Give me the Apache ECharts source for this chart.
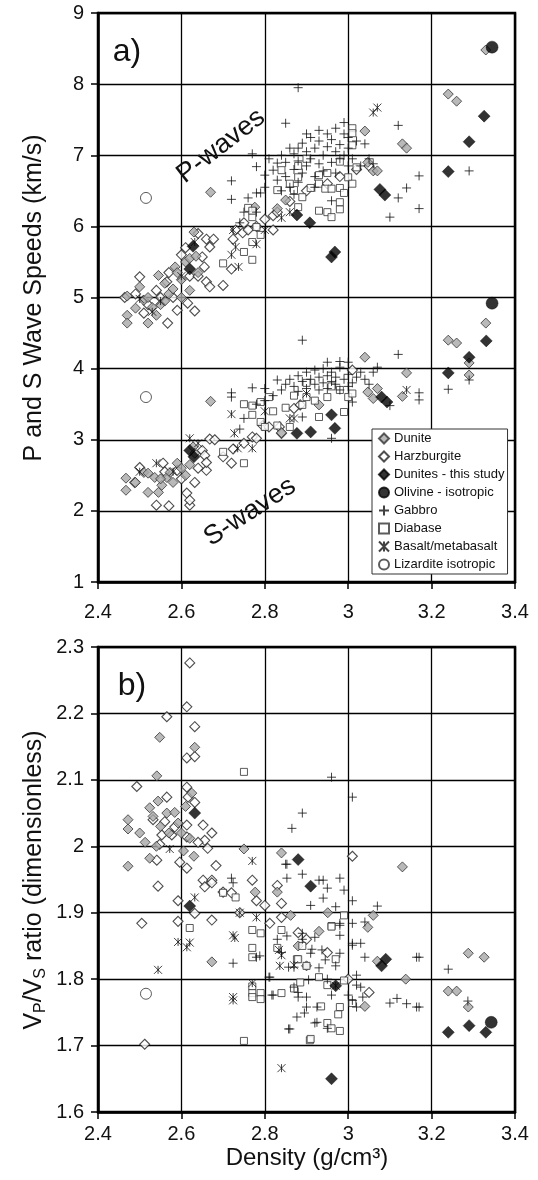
<!DOCTYPE html>
<html><head><meta charset="utf-8">
<script src="https://cdn.jsdelivr.net/npm/echarts@6/dist/echarts.min.js"></script>
<style>html,body{margin:0;padding:0;background:#fff}#c{width:538px;height:1180px}</style>
</head><body><div id="c"></div>
<script>
// ---------- axis ticks ----------
const xTicks = [2.4, 2.6, 2.8, 3.0, 3.2, 3.4];
const speedTicks = [1, 2, 3, 4, 5, 6, 7, 8, 9];
const ratioTicks = [1.6, 1.7, 1.8, 1.9, 2.0, 2.1, 2.2, 2.3];
const seriesNames = ['Dunite', 'Harzburgite', 'Dunites - this study', 'Olivine - isotropic', 'Gabbro', 'Diabase', 'Basalt/metabasalt', 'Lizardite isotropic'];

// ---------- panel a) P-wave speeds [density, Vp] ----------
const duniteP = [[2.47,5.02],[2.47,4.75],[2.47,4.64],[2.49,4.85],[2.51,4.96],[2.52,5.0],[2.52,4.64],[2.53,4.86],[2.54,4.75],[2.55,4.9],[2.545,5.31],[2.56,5.2],[2.57,5.05],[2.585,5.43],[2.59,5.35],[2.58,5.12],[2.6,5.25],[2.61,5.5],[2.62,5.55],[2.63,5.92],[2.635,5.58],[2.62,5.1],[2.6,5.0],[2.5,5.15],[2.56,4.95],[2.64,5.35],[2.67,6.48],[2.776,6.27],[2.85,6.37],[2.83,6.25],[3.04,7.34],[3.13,7.16],[3.14,7.1],[3.047,6.9],[3.06,6.78],[3.07,6.78],[3.24,7.86],[3.26,7.76],[3.33,8.48]];
const harzP = [[2.464,5.0],[2.49,5.05],[2.5,5.29],[2.51,4.78],[2.54,5.1],[2.567,4.64],[2.57,5.35],[2.565,5.22],[2.58,5.0],[2.59,4.82],[2.6,5.6],[2.61,5.7],[2.615,4.92],[2.62,5.3],[2.632,4.81],[2.64,5.3],[2.64,5.9],[2.65,5.57],[2.655,5.43],[2.66,5.22],[2.668,5.15],[2.66,5.82],[2.677,5.82],[2.668,5.71],[2.70,5.17],[2.72,5.40],[2.724,5.82],[2.73,5.95],[2.747,5.91],[2.76,5.95],[2.78,6.0],[2.75,6.05],[2.8,6.1],[2.82,5.95],[2.82,6.15],[2.83,6.2],[2.86,6.35],[2.9,6.5],[2.95,6.6],[2.98,6.7],[3.02,6.8],[3.05,6.85],[2.52,4.9],[2.55,5.0]];
const gabbroP = [[2.72,6.64],[2.72,6.38],[2.77,7.02],[2.78,6.84],[2.78,6.47],[2.79,6.47],[2.85,7.45],[2.88,7.95],[2.89,7.17],[2.99,7.46],[3.04,7.16],[3.12,7.42],[3.17,6.71],[3.14,6.54],[3.12,6.4],[3.17,6.25],[3.10,6.13],[3.29,6.78],[2.96,6.36],[2.8,6.72],[2.81,6.95],[2.82,6.79],[2.83,6.65],[2.83,6.89],[2.84,7.0],[2.85,6.7],[2.85,6.9],[2.86,7.1],[2.86,6.55],[2.87,6.8],[2.87,7.02],[2.88,6.62],[2.88,6.92],[2.89,6.75],[2.9,7.05],[2.9,6.85],[2.91,6.95],[2.91,7.25],[2.92,6.7],[2.92,7.1],[2.93,6.88],[2.93,7.2],[2.94,7.0],[2.94,6.78],[2.95,7.12],[2.95,7.3],[2.96,6.9],[2.96,7.22],[2.97,7.05],[2.97,6.75],[2.98,7.15],[2.98,6.95],[2.99,7.3],[2.99,7.0],[3.0,6.85],[3.0,7.1],[3.01,6.95],[3.02,7.2],[3.03,6.85],[3.05,6.95],[3.06,6.88],[2.92,6.55],[2.87,6.45],[2.84,6.5],[2.8,6.55],[2.76,6.4],[2.75,6.2],[2.74,6.05],[2.78,6.2],[2.93,7.35],[2.97,7.38],[3.0,7.25],[2.9,7.3],[2.88,7.1]];
const diabaseP = [[2.88,6.69],[2.89,6.41],[2.93,6.6],[2.945,6.53],[2.96,6.53],[2.91,6.54],[2.98,6.54],[2.99,6.47],[2.93,6.22],[2.95,6.2],[2.96,6.13],[2.98,6.24],[2.98,6.34],[3.0,6.69],[3.01,6.6],[2.83,6.51],[2.87,6.51],[2.88,6.27],[2.84,6.79],[2.88,6.85],[2.93,6.72],[2.98,6.91],[2.76,6.26],[2.77,6.13],[2.79,5.88],[2.75,5.64],[2.77,5.53],[2.78,5.99],[2.77,6.22],[2.70,5.48],[2.77,5.78],[3.01,7.38],[3.01,7.31],[3.01,7.14],[3.02,6.83],[2.9,6.95],[2.95,6.75],[2.86,6.6]];
const basaltP = [[2.5,4.98],[2.53,4.8],[2.55,4.95],[2.6,5.3],[2.632,5.78],[2.72,5.6],[2.724,5.95],[2.73,5.71],[2.737,5.43],[2.78,5.75],[2.8,5.95],[2.84,6.12],[2.86,6.2],[3.06,7.6],[3.07,7.67]];
const thisStudyP = [[2.62,5.40],[2.628,5.72],[2.877,6.16],[2.908,6.05],[2.96,5.57],[2.968,5.64],[3.076,6.52],[3.088,6.44],[3.24,6.77],[3.29,7.19],[3.326,7.55]];
const olivineP = [[3.345,8.52]];
const lizarditeP = [[2.515,6.4]];

// ---------- panel a) S-wave speeds [density, Vs] ----------
const duniteS = [[2.467,2.46],[2.467,2.29],[2.49,2.4],[2.51,2.54],[2.52,2.53],[2.52,2.26],[2.536,2.47],[2.545,2.26],[2.553,2.36],[2.565,2.47],[2.573,2.54],[2.58,2.4],[2.59,2.67],[2.61,2.5],[2.628,2.9],[2.632,2.81],[2.6,2.6],[2.62,2.65],[2.55,2.45],[2.67,3.54],[2.84,3.1],[2.93,3.49],[3.04,4.16],[3.047,3.67],[3.06,3.58],[3.07,3.72],[3.13,3.61],[3.14,3.94],[3.24,4.4],[3.26,4.36],[3.29,4.08],[3.29,3.91],[3.33,4.64]];
const harzS = [[2.488,2.4],[2.50,2.61],[2.54,2.08],[2.556,2.67],[2.57,2.07],[2.59,2.57],[2.6,2.45],[2.613,2.25],[2.62,2.08],[2.62,2.15],[2.632,2.4],[2.65,2.85],[2.656,2.78],[2.66,2.57],[2.66,2.68],[2.668,3.01],[2.68,3.0],[2.7,2.76],[2.72,2.67],[2.724,2.87],[2.75,2.95],[2.77,3.04],[2.78,3.02],[2.795,3.2],[2.81,3.18],[2.835,3.18],[2.84,3.09],[2.87,3.44],[2.885,3.49],[3.01,3.98],[2.56,2.55],[2.64,2.6]];
const gabbroS = [[2.72,3.66],[2.72,3.6],[2.77,3.73],[2.8,3.72],[2.83,3.84],[2.89,4.4],[2.95,4.09],[2.98,4.1],[3.0,4.09],[3.12,4.2],[3.07,4.02],[3.1,3.48],[3.17,3.66],[3.17,3.56],[2.96,3.02],[3.24,3.71],[3.29,3.84],[3.01,3.53],[2.89,3.32],[2.84,3.7],[2.85,3.78],[2.86,3.85],[2.87,3.75],[2.88,3.9],[2.88,3.68],[2.89,3.82],[2.9,3.95],[2.9,3.72],[2.91,3.85],[2.92,3.78],[2.92,3.98],[2.93,3.88],[2.93,3.7],[2.94,3.8],[2.94,4.0],[2.95,3.9],[2.95,3.72],[2.96,3.82],[2.96,3.95],[2.97,3.78],[2.97,3.88],[2.98,3.7],[2.98,4.02],[2.99,3.85],[3.0,3.75],[3.0,3.92],[3.01,3.8],[3.02,3.88],[3.03,3.95],[3.04,3.85],[2.82,3.62],[2.8,3.55],[2.78,3.5],[2.75,3.3],[2.74,3.15],[3.06,3.95],[3.05,3.78]];
const diabaseS = [[2.75,3.5],[2.77,3.48],[2.79,3.53],[2.77,3.35],[2.79,3.25],[2.8,3.18],[2.83,3.2],[2.86,3.18],[2.7,2.83],[2.75,2.67],[2.93,3.32],[2.99,3.39],[2.87,3.62],[2.89,3.49],[2.9,3.6],[2.98,3.7],[2.95,3.6],[2.92,3.55],[2.85,3.45],[2.82,3.4],[2.81,3.6],[3.0,3.6],[3.01,3.65],[2.96,3.75],[2.9,3.8]];
const basaltS = [[2.5,2.55],[2.54,2.67],[2.58,2.55],[2.62,3.02],[2.64,2.95],[2.72,3.36],[2.727,3.09],[2.735,2.88],[2.77,2.88],[2.86,3.3],[2.87,3.3],[3.14,3.7],[2.8,3.4],[2.9,3.65]];
const thisStudyS = [[2.62,2.85],[2.63,2.76],[2.877,3.09],[2.91,3.11],[2.96,3.35],[2.968,3.16],[3.08,3.6],[3.093,3.53],[3.24,3.94],[3.29,4.16],[3.331,4.39]];
const olivineS = [[3.345,4.92]];
const lizarditeS = [[2.515,3.6]];

// ---------- panel b) Vp/Vs ratio [density, ratio] ----------
const duniteR = [[2.548,2.164],[2.632,2.149],[2.541,2.106],[2.544,2.068],[2.565,2.05],[2.472,2.04],[2.472,2.026],[2.524,2.058],[2.532,2.045],[2.584,2.051],[2.592,2.035],[2.513,2.006],[2.524,1.982],[2.472,1.97],[2.62,2.012],[2.75,1.996],[2.84,1.99],[2.673,1.826],[2.777,1.931],[2.83,1.931],[2.862,1.896],[2.55,2.03],[2.6,2.02],[2.57,2.02],[2.61,2.06],[2.54,2.0],[2.5,2.02],[2.63,1.985],[2.605,1.993],[2.625,2.08],[2.951,1.90],[2.93,1.872],[3.047,1.878],[3.06,1.896],[3.07,1.827],[3.04,1.759],[3.138,1.80],[3.13,1.969],[3.24,1.782],[3.26,1.782],[3.288,1.758],[3.288,1.839],[3.326,1.833],[2.88,1.85],[2.9,1.82]];
const harzR = [[2.62,2.276],[2.613,2.21],[2.565,2.195],[2.632,2.18],[2.613,2.133],[2.632,2.135],[2.493,2.09],[2.613,2.089],[2.616,2.074],[2.632,2.066],[2.565,2.074],[2.532,2.04],[2.56,2.037],[2.584,2.029],[2.553,2.017],[2.577,2.017],[2.613,2.032],[2.652,2.032],[2.673,2.02],[2.656,2.009],[2.613,2.014],[2.64,2.006],[2.548,2.003],[2.663,1.997],[2.541,1.979],[2.596,1.976],[2.613,1.967],[2.683,1.971],[2.652,1.949],[2.673,1.949],[2.544,1.94],[2.77,1.949],[2.592,1.918],[2.505,1.884],[2.592,1.887],[2.632,1.899],[2.673,1.889],[2.656,1.939],[2.673,1.945],[2.7,1.931],[2.72,1.93],[2.8,1.911],[2.812,1.884],[2.84,1.914],[2.74,1.9],[2.512,1.702],[2.83,1.941],[2.78,1.918],[2.84,1.893],[3.01,1.985],[2.88,1.87],[2.9,1.86],[2.95,1.84],[3.0,1.80],[3.05,1.78]];
const gabbroR = [[2.96,2.104],[3.01,2.074],[2.89,2.05],[2.865,2.027],[2.853,1.973],[2.72,1.952],[2.853,1.952],[2.724,1.945],[3.01,1.918],[3.07,1.91],[3.04,1.886],[2.98,1.884],[2.98,1.866],[3.01,1.854],[3.03,1.854],[3.04,1.833],[3.17,1.833],[3.24,1.815],[3.1,1.764],[3.117,1.771],[3.14,1.763],[3.17,1.758],[3.287,1.767],[2.91,1.911],[2.89,1.869],[2.91,1.839],[2.925,1.735],[2.877,1.743],[2.895,1.749],[2.88,1.78],[3.03,1.788],[3.035,1.773],[2.85,1.973],[2.89,1.958],[2.93,1.949],[2.94,1.949],[2.98,1.952],[2.95,1.937],[2.99,1.934],[2.94,1.922],[2.97,1.909],[2.98,1.881],[2.92,1.863],[2.89,1.86],[2.853,1.865],[3.01,1.884],[3.01,1.851],[2.913,1.845],[2.937,1.844],[2.98,1.839],[2.945,1.829],[2.78,1.833],[2.87,1.818],[2.81,1.803],[2.93,1.817],[3.02,1.806],[3.02,1.791],[2.905,1.799],[2.87,1.788],[2.82,1.776],[2.88,1.773],[2.9,1.773],[2.96,1.776],[3.0,1.776],[3.01,1.768],[3.02,1.758],[2.9,1.758],[2.925,1.758],[2.92,1.734],[2.95,1.726],[2.857,1.725],[3.164,1.758],[3.164,1.833],[2.724,1.824],[2.812,1.803],[2.817,1.776],[2.86,1.725],[2.857,1.818],[2.788,1.835],[2.83,1.86],[2.95,1.8],[2.97,1.82],[2.84,1.84]];
const diabaseR = [[2.75,2.112],[2.62,1.877],[2.77,1.874],[2.79,1.869],[2.77,1.847],[2.77,1.833],[2.83,1.847],[2.877,1.83],[2.77,1.789],[2.77,1.779],[2.77,1.773],[2.79,1.779],[2.79,1.77],[2.84,1.779],[2.87,1.786],[2.75,1.707],[2.73,1.923],[2.96,1.88],[2.88,1.83],[2.89,1.85],[2.84,1.874],[2.9,1.82],[2.93,1.803],[2.885,1.795],[2.95,1.791],[2.97,1.83],[2.99,1.798],[2.98,1.758],[2.976,1.747],[2.935,1.759],[2.95,1.734],[2.96,1.726],[2.98,1.722],[2.908,1.708],[3.01,1.764],[2.91,1.71],[2.99,1.896],[2.96,1.879],[2.7,1.93]];
const basaltR = [[2.572,1.996],[2.77,1.978],[2.632,1.923],[2.592,1.856],[2.613,1.848],[2.62,1.855],[2.544,1.814],[2.724,1.866],[2.728,1.862],[2.77,1.794],[2.724,1.773],[2.724,1.768],[2.84,1.666],[2.74,1.9],[2.834,1.844],[2.84,1.836],[2.836,1.82],[2.87,1.821],[2.78,1.893],[2.97,1.79]];
const thisStudyR = [[2.62,1.91],[2.632,2.05],[2.88,1.98],[2.91,1.94],[2.97,1.79],[2.96,1.65],[3.08,1.82],[3.09,1.83],[3.24,1.72],[3.29,1.73],[3.33,1.72]];
const olivineR = [[3.343,1.735]];
const lizarditeR = [[2.515,1.778]];

// ---------- styling ----------
const FONT = '"Liberation Sans", Arial, Helvetica, sans-serif';
const styles = {
  'Dunite': {symbol: 'diamond', symbolSize: 10, itemStyle: {color: '#a8a8a8', borderColor: '#333', borderWidth: 1}},
  'Harzburgite': {symbol: 'diamond', symbolSize: 10, itemStyle: {color: '#fff', borderColor: '#222', borderWidth: 1.1}},
  'Dunites - this study': {symbol: 'diamond', symbolSize: 12, itemStyle: {color: '#000', borderColor: '#000', borderWidth: 0.5}},
  'Olivine - isotropic': {symbol: 'circle', symbolSize: 12, itemStyle: {color: '#000', borderColor: '#000', borderWidth: 0.5}},
  'Gabbro': {symbol: 'path://M5,0V10M0,5H10', symbolSize: 9, itemStyle: {color: 'rgba(0,0,0,0)', borderColor: '#111', borderWidth: 1}},
  'Diabase': {symbol: 'rect', symbolSize: 7, itemStyle: {color: '#fff', borderColor: '#333', borderWidth: 1}},
  'Basalt/metabasalt': {symbol: 'path://M0,0L10,10M10,0L0,10M5,0V10', symbolSize: 8, itemStyle: {color: 'rgba(0,0,0,0)', borderColor: '#111', borderWidth: 1}},
  'Lizardite isotropic': {symbol: 'circle', symbolSize: 11, itemStyle: {color: '#fff', borderColor: '#333', borderWidth: 1}}
};
const drawOrder = ['Harzburgite', 'Dunite', 'Diabase', 'Gabbro', 'Basalt/metabasalt', 'Lizardite isotropic', 'Dunites - this study', 'Olivine - isotropic'];
const topData = {
  'Dunite': duniteP.concat(duniteS), 'Harzburgite': harzP.concat(harzS),
  'Dunites - this study': thisStudyP.concat(thisStudyS), 'Olivine - isotropic': olivineP.concat(olivineS),
  'Gabbro': gabbroP.concat(gabbroS), 'Diabase': diabaseP.concat(diabaseS),
  'Basalt/metabasalt': basaltP.concat(basaltS), 'Lizardite isotropic': lizarditeP.concat(lizarditeS)
};
const botData = {
  'Dunite': duniteR, 'Harzburgite': harzR, 'Dunites - this study': thisStudyR, 'Olivine - isotropic': olivineR,
  'Gabbro': gabbroR, 'Diabase': diabaseR, 'Basalt/metabasalt': basaltR, 'Lizardite isotropic': lizarditeR
};

const series = [];
[[topData, 0], [botData, 1]].forEach(([d, idx]) => {
  drawOrder.forEach(name => {
    const s = styles[name];
    series.push({
      type: 'scatter', name, xAxisIndex: idx, yAxisIndex: idx, data: d[name],
      symbol: s.symbol, symbolSize: s.symbolSize, itemStyle: s.itemStyle,
      silent: true, animation: false, emphasis: {disabled: true}
    });
  });
});

const axisCommon = {
  axisLine: {show: true, onZero: false, lineStyle: {color: '#000', width: 2.5}},
  splitLine: {show: true, lineStyle: {color: '#000', width: 1.3}},
  axisTick: {show: true, inside: false, length: 7, lineStyle: {color: '#000', width: 1.5}}
};
function xAx(gi, margin) {
  return Object.assign({}, axisCommon, {
    type: 'value', gridIndex: gi, min: xTicks[0], max: xTicks[xTicks.length - 1], interval: 0.2,
    axisLabel: {fontSize: 20, fontFamily: FONT, color: '#111', margin: margin,
      formatter: v => String(parseFloat(v.toFixed(1)))}
  });
}
function yAx(gi, ticks, step) {
  return Object.assign({}, axisCommon, {
    type: 'value', gridIndex: gi, min: ticks[0], max: ticks[ticks.length - 1], interval: step,
    axisLabel: {fontSize: 20, fontFamily: FONT, color: '#111', margin: 14,
      formatter: v => String(parseFloat(v.toFixed(1)))}
  });
}

const chart = echarts.init(document.getElementById('c'), null, {renderer: 'canvas'});
chart.setOption({
  backgroundColor: '#fff',
  animation: false,
  grid: [
    {left: 98, top: 13, width: 417, height: 569, show: true, borderColor: '#000', borderWidth: 2.5, backgroundColor: 'transparent', containLabel: false, outerBoundsMode: 'none'},
    {left: 98, top: 647, width: 417, height: 465, show: true, borderColor: '#000', borderWidth: 2.5, backgroundColor: 'transparent', containLabel: false, outerBoundsMode: 'none'}
  ],
  xAxis: [xAx(0, 20), xAx(1, 12)],
  yAxis: [yAx(0, speedTicks, 1), yAx(1, ratioTicks, 0.1)],
  legend: {
    data: seriesNames, orient: 'vertical', left: 372, top: 429,
    backgroundColor: '#fff', borderColor: '#333', borderWidth: 1, borderRadius: 0,
    padding: [3, 3, 3, 6], itemGap: 5, itemWidth: 10, itemHeight: 10,
    textStyle: {fontSize: 13, fontFamily: FONT, color: '#111', lineHeight: 13},
    selectedMode: false, z: 10
  },
  graphic: [
    {type: 'text', x: 127, y: 52, z: 20, style: {text: 'a)', font: '32px ' + FONT, fill: '#111', align: 'center', verticalAlign: 'middle', textAlign: 'center', textVerticalAlign: 'middle'}},
    {type: 'text', x: 132, y: 686, z: 20, style: {text: 'b)', font: '32px ' + FONT, fill: '#111', align: 'center', verticalAlign: 'middle', textAlign: 'center', textVerticalAlign: 'middle'}},
    {type: 'text', x: 221, y: 146, rotation: 0.66, z: 20, style: {text: 'P-waves', font: '27px ' + FONT, fill: '#111', align: 'center', verticalAlign: 'middle', textAlign: 'center', textVerticalAlign: 'middle'}},
    {type: 'text', x: 250, y: 512, rotation: 0.58, z: 20, style: {text: 'S-waves', font: '27px ' + FONT, fill: '#111', align: 'center', verticalAlign: 'middle', textAlign: 'center', textVerticalAlign: 'middle'}},
    {type: 'text', x: 34, y: 298, rotation: Math.PI / 2, z: 20, style: {text: 'P and S Wave Speeds (km/s)', font: '25px ' + FONT, fill: '#111', align: 'center', verticalAlign: 'middle', textAlign: 'center', textVerticalAlign: 'middle'}},
    {type: 'text', x: 34, y: 880, rotation: Math.PI / 2, z: 20, style: {
      text: '{m|V}{s|P}{m|/V}{s|S}{m| ratio (dimensionless)}', align: 'center', verticalAlign: 'middle', textAlign: 'center', textVerticalAlign: 'middle',
      rich: {m: {fontSize: 25, fontFamily: FONT, fill: '#111', color: '#111', lineHeight: 29}, s: {fontSize: 16, fontFamily: FONT, fill: '#111', color: '#111', lineHeight: 16, verticalAlign: 'bottom'}}}},
    {type: 'text', x: 307, y: 1158, z: 20, style: {text: 'Density (g/cm³)', font: '24px ' + FONT, fill: '#111', align: 'center', verticalAlign: 'middle', textAlign: 'center', textVerticalAlign: 'middle'}}
  ],
  series
});
</script></body></html>
